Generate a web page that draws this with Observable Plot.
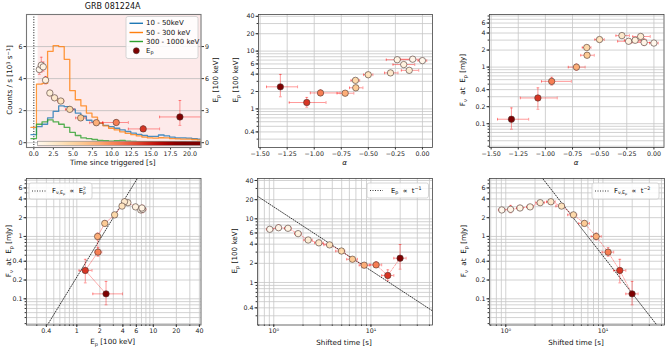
<!DOCTYPE html>
<html><head><meta charset="utf-8">
<script src="https://cdn.jsdelivr.net/npm/d3@7"></script>
<script src="https://cdn.jsdelivr.net/npm/@observablehq/plot@0.6"></script>
<style>
html,body{margin:0;padding:0;background:#fff;}
#fig{position:relative;width:670px;height:352px;overflow:hidden;font-family:"DejaVu Sans",sans-serif;color:#111;}
#fig > svg{position:absolute;}
.lbl{position:absolute;white-space:pre;line-height:1;font-size:7.2px;}
.lbl sub{font-size:70%;vertical-align:-0.3em;line-height:0;}
.lbl sup{font-size:70%;vertical-align:0.5em;line-height:0;}
.st{display:inline-flex;flex-direction:column;font-size:65%;line-height:0.95;vertical-align:middle;}
</style></head><body><div id="fig"></div><script>
// ---------------- data ----------------
const time      = [0.70, 0.95, 1.20, 1.50, 2.05, 2.65, 3.45, 4.60, 6.00, 8.00, 10.55, 14.00, 18.70];
const timeLo    = [0.55, 0.82, 1.07, 1.35, 1.80, 2.35, 3.05, 4.05, 5.35, 7.15, 8.80, 12.10, 16.10];
const timeHi    = [0.85, 1.08, 1.33, 1.65, 2.30, 2.95, 3.85, 5.15, 6.65, 8.85, 12.10, 16.10, 21.50];
const shifted   = [0.91, 1.12, 1.40, 1.78, 2.26, 2.91, 3.75, 4.97, 6.45, 8.52, 11.30, 14.90, 19.95];
const shiftedLo = [0.84, 1.04, 1.29, 1.64, 2.04, 2.63, 3.28, 4.34, 5.64, 7.57, 9.80, 12.90, 17.20];
const shiftedHi = [0.98, 1.19, 1.51, 1.92, 2.49, 3.23, 3.99, 5.38, 7.27, 9.60, 12.90, 17.20, 23.00];
const alpha     = [0.00, -0.09, -0.233, -0.173, -0.122, -0.295, -0.501, -0.619, -0.616, -0.714, -0.942, -1.069, -1.313];
const alphaLo   = [-0.04, -0.204, -0.334, -0.272, -0.195, -0.350, -0.544, -0.660, -0.674, -0.789, -1.036, -1.231, -1.441];
const alphaHi   = [0.04, 0.006, -0.117, -0.071, -0.034, -0.226, -0.458, -0.580, -0.550, -0.634, -0.761, -0.891, -1.154];
const ep        = [6.85, 7.25, 7.10, 5.85, 4.65, 4.20, 3.90, 3.12, 2.32, 1.87, 1.89, 1.29, 2.41];
const epLo      = [6.40, 6.60, 6.70, 5.50, 4.40, 4.00, 3.75, 3.00, 2.20, 1.78, 1.73, 1.07, 1.62];
const epHi      = [7.25, 8.00, 7.55, 6.20, 4.90, 4.42, 4.08, 3.28, 2.46, 1.98, 2.12, 1.58, 3.95];
const fnu       = [2.66, 2.72, 2.86, 2.98, 3.48, 3.60, 3.07, 2.22, 1.62, 1.00, 0.56, 0.285, 0.12];
const fnuLo     = [2.45, 2.40, 2.60, 2.75, 3.20, 3.35, 2.85, 2.05, 1.48, 0.88, 0.48, 0.18, 0.08];
const fnuHi     = [2.90, 3.15, 3.15, 3.22, 3.75, 3.88, 3.30, 2.42, 1.78, 1.13, 0.66, 0.43, 0.19];

// light curves (bin start times, counts / s in 10^3; last entry closes the final bin)
const lcTime = [-0.37,0.34,1.05,1.76,2.47,3.18,3.89,4.60,5.31,6.02,6.73,7.44,8.15,8.86,9.57,10.28,10.99,11.70,12.41,13.12,13.83,14.54,15.25,15.96,16.67,17.38,18.09,18.80,19.51,20.22,20.93,21.64];
const lcSoft = [0.50,1.00,1.15,1.55,1.95,2.30,2.25,2.10,1.85,1.65,1.40,1.28,1.20,1.08,1.00,0.90,0.80,0.70,0.60,0.52,0.45,0.40,0.40,0.48,0.42,0.35,0.30,0.30,0.28,0.25,0.22,0.22];
const lcMid  = [0.95,3.65,3.70,5.70,6.06,6.00,5.20,3.25,2.68,2.30,1.85,1.60,1.22,1.05,0.90,0.80,0.68,0.58,0.50,0.42,0.35,0.30,0.28,0.31,0.30,0.26,0.24,0.22,0.22,0.20,0.18,0.18];
const lcHard = [0.25,1.15,1.30,1.42,1.30,1.15,0.95,0.65,0.45,0.30,0.25,0.20,0.15,0.12,0.10,0.12,0.15,0.10,0.08,0.07,0.06,0.06,0.05,0.06,0.05,0.05,0.04,0.05,0.04,0.04,0.04,0.04];
const bandNames  = ["10 - 50keV", "50 - 300 keV", "300 - 1000 keV"];
const bandColors = ["#1f77b4", "#ff7f0e", "#2ca02c"];

// tick labels
const tickCounts = [0, 2, 4, 6];
const tickEpLin  = [0, 3, 6, 9];
const tickTime   = [0, 2.5, 5, 7.5, 10, 12.5, 15, 17.5, 20];
const tickAlpha  = [-1.5, -1.25, -1, -0.75, -0.5, -0.25, 0];
const tickEpLog  = [0.4, 1, 2, 4, 6, 10, 20, 40];
const tickFnu    = [0.1, 0.2, 0.4, 1, 2, 4, 6];
const tickShift  = [1, 10];

// power-law reference normalisations
const normEp2 = 0.223;   // F = k * Ep^2
const normT1  = 15.4;    // Ep = k / t
const normT2  = 48.8;    // F = k / t^2

// ---------------- layout ----------------
const fig = document.getElementById("fig");
const FONT = "DejaVu Sans";
const M = {l: 34, r: 34, t: 12, b: 26};
const F1 = {x: 25.5, y: 13.5, w: 174.5, h: 133};
const F2 = {x: 257.5, y: 13.5, w: 174, h: 133};
const F3 = {x: 489, y: 13.5, w: 174.5, h: 133};
const F4 = {x: 25.5, y: 178, w: 174.5, h: 146.5};
const F5 = {x: 256.5, y: 178, w: 175, h: 146.5};
const F6 = {x: 488.5, y: 178, w: 175, h: 146.5};

const xTimeDom = [-0.94, 21.4], yCntDom = [-0.3, 8.0], yEpLinDom = [-0.45, 12.0];
const alphaDom = [-1.515, 0.093], epDom = [0.215, 43], fnuDom = [0.038, 8.5];
const epXDom = [0.22, 42], shiftDom = [0.68, 43];

const colorOpt = {type: "linear", scheme: "OrRd", domain: d3.extent(time)};
const cscale = d3.scaleSequential(d3.interpolateOrRd).domain(d3.extent(time)).clamp(true);

function place(fr, opts) {
  const svg = Plot.plot({
    width: fr.w + M.l + M.r, height: fr.h + M.t + M.b,
    marginLeft: M.l, marginRight: M.r, marginTop: M.t, marginBottom: M.b,
    style: {background: "transparent", fontFamily: FONT, fontSize: "6.3px", color: "#222", overflow: "visible"},
    ...opts
  });
  svg.style.position = "absolute";
  svg.style.left = (fr.x - M.l) + "px";
  svg.style.top = (fr.y - M.t) + "px";
  fig.appendChild(svg);
  return svg;
}
function logTicks([lo, hi]) {
  const out = [];
  for (let e = Math.floor(Math.log10(lo)); e <= Math.ceil(Math.log10(hi)); e++)
    for (let m = 1; m < 10; m++) { const v = +(m * Math.pow(10, e)).toPrecision(6); if (v >= lo && v <= hi) out.push(v); }
  return out;
}
const gridOpt = {stroke: "#c6c6c6", strokeOpacity: 1, strokeWidth: 0.8};
const frameOpt = {stroke: "#444", strokeWidth: 0.8};
const errOpt = {stroke: "red", strokeOpacity: 0.5, strokeWidth: 0.8};
const dotOpt = {fill: "t", stroke: "#4a3630", strokeWidth: 0.6, r: 3.2};
const capH = {draw(ctx) { ctx.moveTo(-1.4, 0); ctx.lineTo(1.4, 0); }};
const capV = {draw(ctx) { ctx.moveTo(0, -1.4); ctx.lineTo(0, 1.4); }};
const major = {tickSize: 2.5, tickPadding: 1.5, label: null, stroke: "#333"};
const minor = {tickSize: 1.4, text: () => "", label: null, stroke: "#333"};
const fmtNum = d => String(d);
const fmtAlpha = d => d.toFixed(2).replace("-", "\u2212");
const fmtPow = d => d === 1 ? "10\u2070" : "10\u00b9";

const pts = time.map((t, i) => ({
  t, tLo: timeLo[i], tHi: timeHi[i], st: shifted[i], stLo: shiftedLo[i], stHi: shiftedHi[i],
  a: alpha[i], aLo: alphaLo[i], aHi: alphaHi[i], ep: ep[i], epLo: epLo[i], epHi: epHi[i],
  f: fnu[i], fLo: fnuLo[i], fHi: fnuHi[i]
}));
function errMarks(x, xLo, xHi, y, yLo, yHi) {
  return [
    Plot.ruleY(pts, {y, x1: xLo, x2: xHi, ...errOpt, clip: true}),
    Plot.ruleX(pts, {x, y1: yLo, y2: yHi, ...errOpt, clip: true}),
    Plot.dot(pts, {x: xLo, y, symbol: capV, fill: "none", ...errOpt, clip: true}),
    Plot.dot(pts, {x: xHi, y, symbol: capV, fill: "none", ...errOpt, clip: true}),
    Plot.dot(pts, {x, y: yLo, symbol: capH, fill: "none", ...errOpt, clip: true}),
    Plot.dot(pts, {x, y: yHi, symbol: capH, fill: "none", ...errOpt, clip: true}),
  ];
}
// log axes: labels given through the text channel so that every listed tick is labelled
const logAxisX = (minorT, majorT, fmt) => [Plot.axisX(minorT, minor), Plot.axisX(majorT, {...major, text: fmt})];
const logAxisY = (minorT, majorT, fmt) => [Plot.axisY(minorT, minor), Plot.axisY(majorT, {...major, text: fmt})];

// ---------------- panel 1: light curves ----------------
const lc = lcTime.map((t, i) => ({t, soft: lcSoft[i], mid: lcMid[i], hard: lcHard[i]}));
const s1 = place(F1, {
  x: {domain: xTimeDom, label: null}, y: {domain: yCntDom, label: null},
  marks: [
    Plot.rect([0], {x1: timeLo[0], x2: xTimeDom[1], fill: "#fdeaea"}),
    Plot.gridY(tickCounts, {stroke: "#bdbdbd", strokeOpacity: 1, strokeWidth: 0.8}),
    Plot.ruleX([0], {stroke: "#111", strokeDasharray: "1,1.6", strokeWidth: 1}),
    Plot.line(lc, {x: "t", y: "soft", curve: "step-after", stroke: bandColors[0], strokeOpacity: 0.8, strokeWidth: 1.3, clip: true}),
    Plot.line(lc, {x: "t", y: "mid", curve: "step-after", stroke: bandColors[1], strokeOpacity: 0.8, strokeWidth: 1.3, clip: true}),
    Plot.line(lc, {x: "t", y: "hard", curve: "step-after", stroke: bandColors[2], strokeOpacity: 0.8, strokeWidth: 1.3, clip: true}),
    Plot.rect([0], {x1: timeLo[0], x2: xTimeDom[1], y1: -0.2, y2: 0.06, fill: "url(#cbar)", stroke: "#888", strokeWidth: 0.6}),
    Plot.axisX(tickTime, {...major, tickFormat: d => d.toFixed(1)}),
    Plot.axisY(tickCounts, {...major, tickFormat: fmtNum}),
    Plot.frame({stroke: "#777", strokeWidth: 1.1})
  ]
});
{
  const defs = d3.select(s1).insert("defs", ":first-child");
  const g = defs.append("linearGradient").attr("id", "cbar").attr("x1", "0%").attr("x2", "100%").attr("y1", "0%").attr("y2", "0%");
  for (let i = 0; i <= 20; i++) {
    const tt = timeLo[0] + (xTimeDom[1] - timeLo[0]) * i / 20;
    g.append("stop").attr("offset", (i * 5) + "%").attr("stop-color", cscale(tt));
  }
}
// panel 1 overlay: Ep vs time on the twin axis
place(F1, {
  x: {domain: xTimeDom, label: null, axis: null}, y: {domain: yEpLinDom, label: null}, color: colorOpt,
  marks: [
    ...errMarks("t", "tLo", "tHi", "ep", "epLo", "epHi"),
    Plot.dot(pts, {x: "t", y: "ep", ...dotOpt}),
    Plot.axisY(tickEpLin, {...major, anchor: "right", tickFormat: fmtNum})
  ]
});

// ---------------- panel 2: Ep vs alpha ----------------
place(F2, {
  x: {domain: alphaDom, label: null}, y: {type: "log", domain: epDom, label: null}, color: colorOpt,
  marks: [
    Plot.gridX(tickAlpha, gridOpt), Plot.gridY(logTicks(epDom), gridOpt),
    ...errMarks("a", "aLo", "aHi", "ep", "epLo", "epHi"),
    Plot.dot(pts, {x: "a", y: "ep", ...dotOpt}),
    Plot.axisX(tickAlpha, {...major, tickFormat: fmtAlpha}),
    ...logAxisY(logTicks(epDom), tickEpLog, fmtNum),
    Plot.frame(frameOpt)
  ]
});

// ---------------- panel 3: F vs alpha ----------------
place(F3, {
  x: {domain: alphaDom, label: null}, y: {type: "log", domain: fnuDom, label: null}, color: colorOpt,
  marks: [
    Plot.gridX(tickAlpha, gridOpt), Plot.gridY(logTicks(fnuDom), gridOpt),
    ...errMarks("a", "aLo", "aHi", "f", "fLo", "fHi"),
    Plot.dot(pts, {x: "a", y: "f", ...dotOpt}),
    Plot.axisX(tickAlpha, {...major, tickFormat: fmtAlpha}),
    ...logAxisY(logTicks(fnuDom), tickFnu, fmtNum),
    Plot.frame(frameOpt)
  ]
});

// ---------------- panel 4: F vs Ep ----------------
const line4 = epXDom.map(e => ({x: e, y: normEp2 * e * e}));
place(F4, {
  x: {type: "log", domain: epXDom, label: null}, y: {type: "log", domain: fnuDom, label: null}, color: colorOpt,
  marks: [
    Plot.gridX(logTicks(epXDom), gridOpt), Plot.gridY(logTicks(fnuDom), gridOpt),
    Plot.line(line4, {x: "x", y: "y", stroke: "#222", strokeDasharray: "1,1.5", strokeWidth: 0.9, clip: true}),
    Plot.line(pts, {x: "ep", y: "f", stroke: "red", strokeOpacity: 0.45, strokeWidth: 0.7}),
    ...errMarks("ep", "epLo", "epHi", "f", "fLo", "fHi"),
    Plot.dot(pts, {x: "ep", y: "f", ...dotOpt}),
    ...logAxisX(logTicks(epXDom), tickEpLog, fmtNum),
    ...logAxisY(logTicks(fnuDom), tickFnu, fmtNum),
    Plot.frame(frameOpt)
  ]
});

// ---------------- panel 5: Ep vs shifted time ----------------
const line5 = shiftDom.map(t => ({x: t, y: normT1 / t}));
place(F5, {
  x: {type: "log", domain: shiftDom, label: null}, y: {type: "log", domain: epDom, label: null}, color: colorOpt,
  marks: [
    Plot.gridX(logTicks(shiftDom), gridOpt), Plot.gridY(logTicks(epDom), gridOpt),
    Plot.line(line5, {x: "x", y: "y", stroke: "#222", strokeDasharray: "1,1.5", strokeWidth: 0.9, clip: true}),
    Plot.line(pts, {x: "st", y: "ep", stroke: "red", strokeOpacity: 0.5, strokeWidth: 0.7, strokeDasharray: "2,1.5"}),
    ...errMarks("st", "stLo", "stHi", "ep", "epLo", "epHi"),
    Plot.dot(pts, {x: "st", y: "ep", ...dotOpt}),
    ...logAxisX(logTicks(shiftDom), tickShift, fmtPow),
    ...logAxisY(logTicks(epDom), tickEpLog, fmtNum),
    Plot.frame(frameOpt)
  ]
});

// ---------------- panel 6: F vs shifted time ----------------
const line6 = shiftDom.map(t => ({x: t, y: normT2 / (t * t)}));
place(F6, {
  x: {type: "log", domain: shiftDom, label: null}, y: {type: "log", domain: fnuDom, label: null}, color: colorOpt,
  marks: [
    Plot.gridX(logTicks(shiftDom), gridOpt), Plot.gridY(logTicks(fnuDom), gridOpt),
    Plot.line(line6, {x: "x", y: "y", stroke: "#222", strokeDasharray: "1,1.5", strokeWidth: 0.9, clip: true}),
    Plot.line(pts, {x: "st", y: "f", stroke: "red", strokeOpacity: 0.5, strokeWidth: 0.7, strokeDasharray: "2,1.5"}),
    ...errMarks("st", "stLo", "stHi", "f", "fLo", "fHi"),
    Plot.dot(pts, {x: "st", y: "f", ...dotOpt}),
    ...logAxisX(logTicks(shiftDom), tickShift, fmtPow),
    ...logAxisY(logTicks(fnuDom), tickFnu, fmtNum),
    Plot.frame(frameOpt)
  ]
});

// ---------------- legends (boxes and samples) ----------------
const ov = d3.select(fig).append("svg").attr("width", 670).attr("height", 352).style("left", "0px").style("top", "0px");
function box(x, y, w, h) { ov.append("rect").attr("x", x).attr("y", y).attr("width", w).attr("height", h).attr("rx", 2).attr("fill", "white").attr("fill-opacity", 0.85).attr("stroke", "#cccccc").attr("stroke-width", 0.8); }
function sample(x1, x2, y, color, dash, w) { ov.append("line").attr("x1", x1).attr("x2", x2).attr("y1", y).attr("y2", y).attr("stroke", color).attr("stroke-width", w).attr("stroke-dasharray", dash); }
box(126, 16.5, 72, 42);
const l1y = [23.3, 32.5, 41.5, 50.7];
bandColors.forEach((c, i) => { sample(129.5, 143, l1y[i], c, null, 1.4); });
ov.append("circle").attr("cx", 136.3).attr("cy", l1y[3]).attr("r", 3).attr("fill", cscale(time[time.length - 1])).attr("stroke", "#4a3630").attr("stroke-width", 0.6);
box(29, 183, 63, 16); sample(32, 46, 191, "#222", "1,1.5", 0.9);
box(367, 183, 61.5, 15); sample(370, 383, 190.5, "#222", "1,1.5", 0.9);
box(592, 183, 67, 16); sample(595, 609, 191, "#222", "1,1.5", 0.9);

// ---------------- text ----------------
function label(html, x, y, opt = {}) {
  const d = document.createElement("div");
  d.className = "lbl"; d.innerHTML = html;
  d.style.left = x + "px"; d.style.top = y + "px";
  if (opt.size) d.style.fontSize = opt.size + "px";
  if (opt.italic) d.style.fontStyle = "italic";
  d.style.transform = opt.rot ? "translate(-50%,-50%) rotate(-90deg)" : (opt.left ? "translate(0,-50%)" : "translate(-50%,-50%)");
  fig.appendChild(d);
}
const EP = "E<sub>p</sub>";
const FNU = "F<sub>\u03bd</sub>  at  E<sub>p</sub> [mJy]";
label("GRB 081224A", 112.7, 7, {size: 8});
label("Time since triggered [s]", 112.7, 163);
label("Counts / s [10<sup>3</sup> s<sup>\u22121</sup>]", 10, 80, {rot: true});
label(EP + " [100 keV]", 216, 80, {rot: true});
label("\u03b1", 344.5, 163, {italic: true});
label(EP + " [100 keV]", 236, 80, {rot: true});
label("\u03b1", 576, 163, {italic: true});
label(FNU, 463, 80, {rot: true});
label(EP + " [100 keV]", 112.7, 342);
label(FNU, 9, 251, {rot: true});
label("Shifted time [s]", 344, 343);
label(EP + " [100 keV]", 235, 251, {rot: true});
label("Shifted time [s]", 576, 343);
label(FNU, 464, 251, {rot: true});
// legend texts
bandNames.forEach((n, i) => label(n, 146, l1y[i], {left: true, size: 7}));
label(EP, 146, l1y[3], {left: true, size: 7});
label("F<sub>\u03bd,E<sub>p</sub></sub>  \u221d  E<span class=\"st\"><span>2</span><span>p</span></span>", 52, 191, {left: true, size: 6.8});
label(EP + "  \u221d  t<sup>\u22121</sup>", 391, 190.5, {left: true, size: 6.8});
label("F<sub>\u03bd,E<sub>p</sub></sub>  \u221d  t<sup>\u22122</sup>", 614, 191, {left: true, size: 6.8});
</script></body></html>
